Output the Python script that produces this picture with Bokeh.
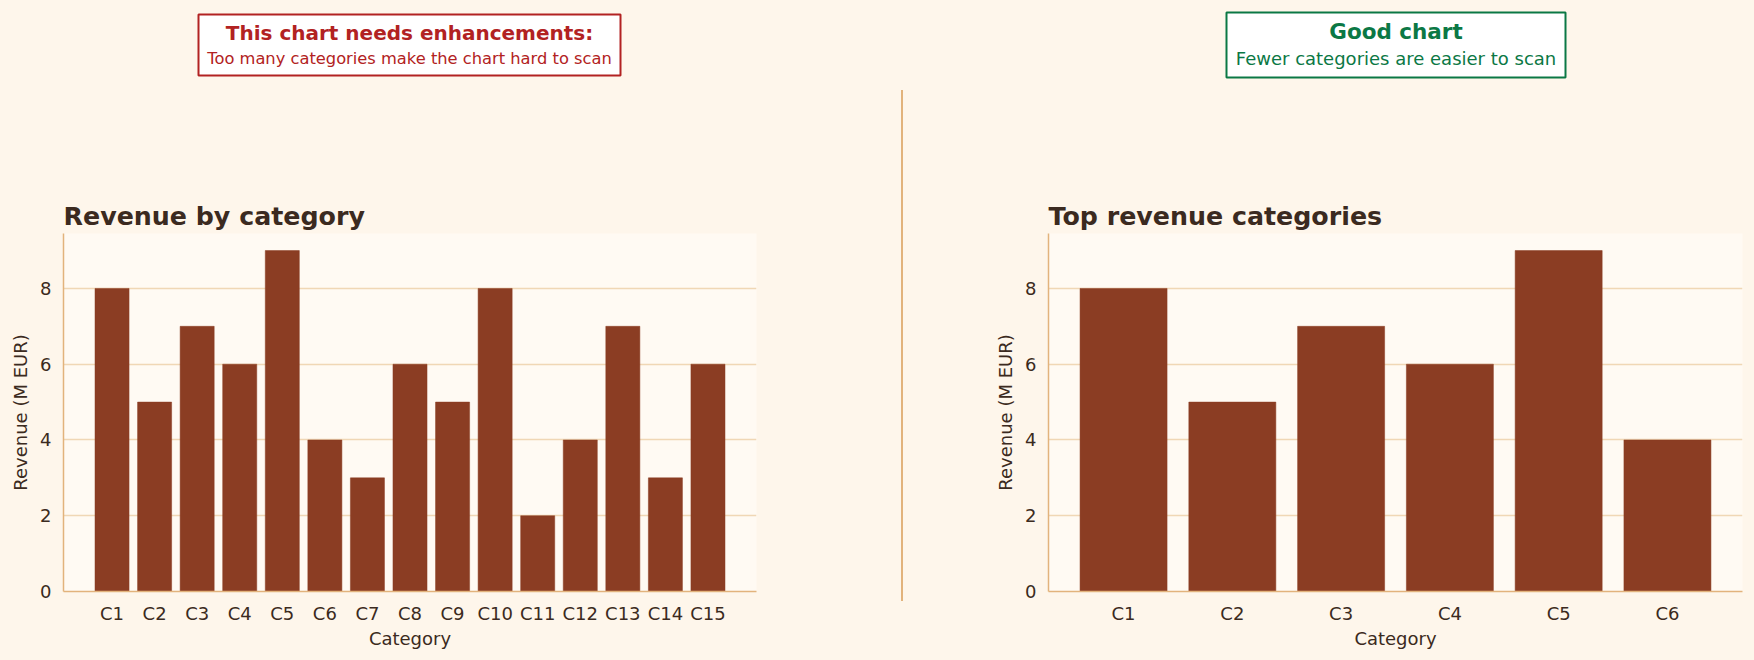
from bokeh.plotting import figure
from bokeh.models import Range1d, FactorRange, FixedTicker, Div
from bokeh.layouts import column, row
from bokeh.core.properties import value
from bokeh.embed import file_html
from bokeh.resources import INLINE

# ---- data ----
all_categories = ["C1", "C2", "C3", "C4", "C5", "C6", "C7", "C8", "C9", "C10",
                  "C11", "C12", "C13", "C14", "C15"]
all_revenue = [8, 5, 7, 6, 9, 4, 3, 6, 5, 8, 2, 4, 7, 3, 6]
top_categories = ["C1", "C2", "C3", "C4", "C5", "C6"]
top_revenue = [8, 5, 7, 6, 9, 4]
y_ticks = [0, 2, 4, 6, 8]

# ---- style ----
FONT = "DejaVu Sans"
PAGE_BG = "#FEF6EB"
PLOT_BG = "#FFFAF3"
BAR = "#8B3D23"
SPINE = "#E2B37C"
GRID = "#F0D7B5"
TEXT = "#3B2A20"
RED = "#B22222"
GREEN = "#0B7845"

TOP_H = 85
BOT_H = 660 - TOP_H


def base_fig(**kw):
    p = figure(output_backend="svg", toolbar_location=None, **kw)
    p.background_fill_color = PAGE_BG
    p.border_fill_color = PAGE_BG
    p.outline_line_color = None
    return p


# ---- top annotation strip ----
top = base_fig(width=1754, height=TOP_H, x_range=Range1d(0, 1754), y_range=Range1d(TOP_H, 0),
               x_axis_type=None, y_axis_type=None, min_border=0)
top.xgrid.visible = False
top.ygrid.visible = False
top.quad(left=198, right=620, top=14, bottom=75, fill_color="white", line_color=RED, line_width=2)
top.text(x=[409], y=[32], text=["This chart needs enhancements:"], text_align="center",
         text_baseline="middle", text_font=value(FONT), text_font_style="bold",
         text_font_size="20px", text_color=RED)
top.text(x=[409], y=[58], text=["Too many categories make the chart hard to scan"], text_align="center",
         text_baseline="middle", text_font=value(FONT), text_font_size="16.3px", text_color=RED)
top.quad(left=1226, right=1565, top=12, bottom=77, fill_color="white", line_color=GREEN, line_width=2)
top.text(x=[1395.5], y=[31], text=["Good chart"], text_align="center",
         text_baseline="middle", text_font=value(FONT), text_font_style="bold",
         text_font_size="21.5px", text_color=GREEN)
top.text(x=[1395.5], y=[58], text=["Fewer categories are easier to scan"], text_align="center",
         text_baseline="middle", text_font=value(FONT), text_font_size="18px", text_color=GREEN)


def bar_chart(cats, vals, title, width, mb_left, mb_right, pad):
    p = base_fig(width=width, height=BOT_H,
                 x_range=FactorRange(factors=cats, range_padding=pad, range_padding_units="absolute"),
                 y_range=Range1d(0, 9.45), title=title,
                 min_border_left=mb_left, min_border_right=mb_right,
                 min_border_top=148, min_border_bottom=69)
    p.background_fill_color = PLOT_BG
    p.vbar(x=cats, top=vals, width=0.8, fill_color=BAR, line_color=BAR, line_width=0.5)
    p.title.text_font = FONT
    p.title.text_font_size = "25.3px"
    p.title.text_font_style = "bold"
    p.title.text_color = TEXT
    p.title.align = "left"
    p.title.offset = 0
    p.title.standoff = 6
    p.xgrid.visible = False
    p.ygrid.grid_line_color = GRID
    p.ygrid.grid_line_width = 1.3
    p.yaxis.ticker = FixedTicker(ticks=y_ticks)
    p.yaxis.minor_tick_line_color = None
    for ax in (p.xaxis, p.yaxis):
        ax.axis_line_color = SPINE
        ax.axis_line_width = 1.5
        ax.major_tick_line_color = None
        ax.major_tick_out = 0
        ax.major_tick_in = 0
        ax.minor_tick_out = 0
        ax.major_label_text_font = FONT
        ax.major_label_text_font_size = "18px"
        ax.major_label_text_color = TEXT
        ax.axis_label_text_font = FONT
        ax.axis_label_text_font_size = "18px"
        ax.axis_label_text_font_style = "normal"
        ax.axis_label_text_color = TEXT
    p.xaxis.axis_label = "Category"
    p.yaxis.axis_label = "Revenue (M EUR)"
    p.xaxis.major_label_standoff = 11
    p.xaxis.axis_label_standoff = 1
    p.yaxis.major_label_standoff = 12
    p.yaxis.axis_label_standoff = 6
    return p


left = bar_chart(all_categories, all_revenue, "Revenue by category", 880, 63, 124, 0.64)

divider = Div(width=44, height=BOT_H,
              text=("<div style='margin:0;padding:0;padding-top:4.5px;height:570px;'>"
                    "<div style='margin-left:21px;width:2px;height:511px;background:%s;'></div></div>" % SPINE),
              styles={"background-color": PAGE_BG, "margin": "0", "padding": "0"})

right = bar_chart(top_categories, top_revenue, "Top revenue categories", 830, 124, 12, 0.19)

layout = column(top, row(left, divider, right, styles={"background-color": PAGE_BG}),
                styles={"background-color": PAGE_BG})

open("out.html", "w").write(file_html(layout, INLINE))
